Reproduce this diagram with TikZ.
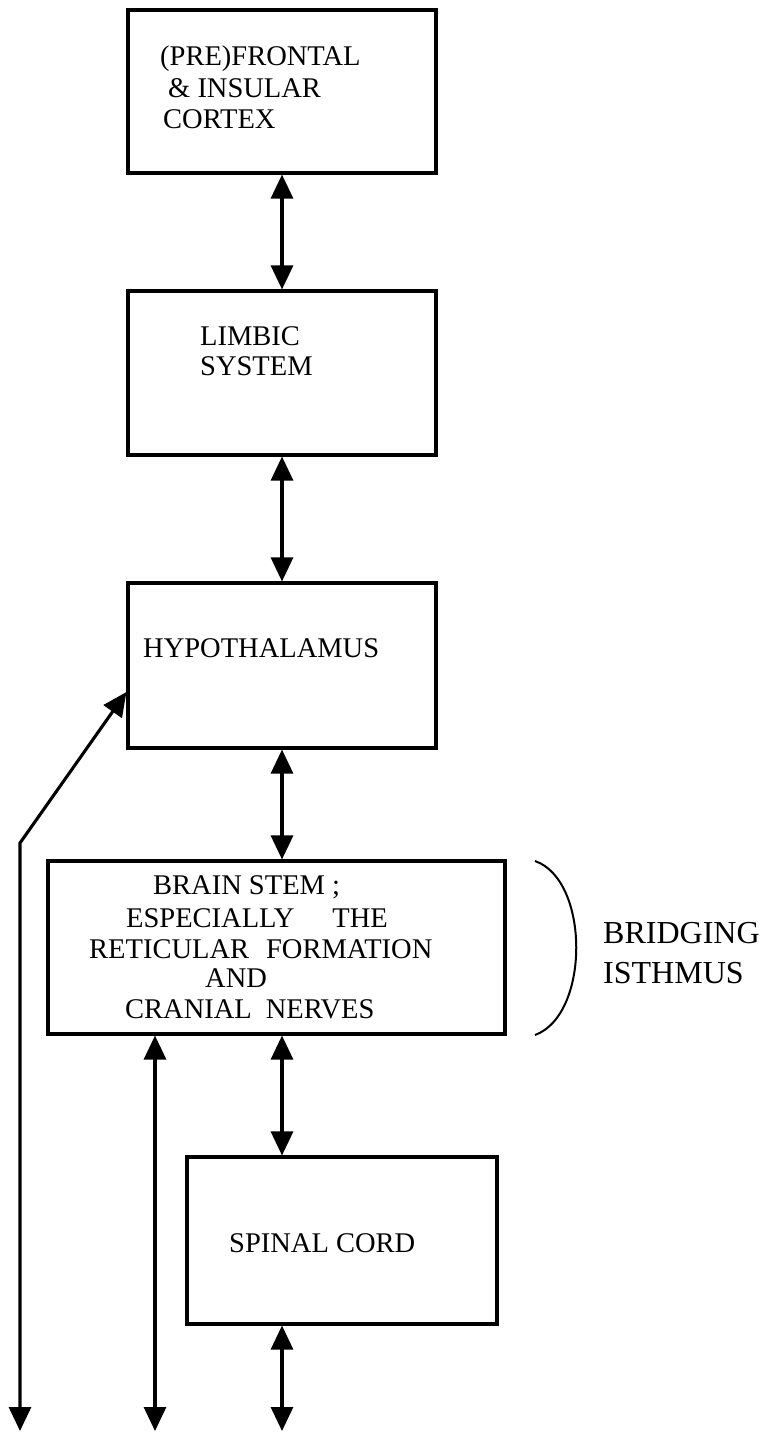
\documentclass[tikz,border=0pt]{standalone}
\usepackage{fontspec}
\setmainfont{Liberation Serif}
\usetikzlibrary{arrows.meta}
\begin{document}
\begin{tikzpicture}[x=1pt,y=-1pt,
  panel/.style={draw, line width=3.1pt, inner sep=0pt},
  txt/.style={inner sep=0pt, anchor=base west, font=\fontsize{28.5}{31}\selectfont},
  bigtxt/.style={inner sep=0pt, anchor=base west, font=\fontsize{32}{36}\selectfont},
  link/.style={line width=3.1pt, {Triangle[length=24pt,width=22pt]}-{Triangle[length=24pt,width=22pt]}},
  brace/.style={line width=2pt}]
\useasboundingbox (0,0) rectangle (768,1432);

% boxes
\node[panel, minimum width=308pt, minimum height=163pt] (frontal) at (282,91.5) {};
\node[panel, minimum width=308pt, minimum height=164pt] (limbic) at (282,373) {};
\node[panel, minimum width=308pt, minimum height=165pt] (hypo) at (282,665.5) {};
\node[panel, minimum width=457pt, minimum height=173pt] (stem) at (276.5,947.5) {};
\node[panel, minimum width=310pt, minimum height=167pt] (spinal) at (342,1240.5) {};

% box texts
\node[txt] (t1) at (160,65) {(PRE)FRONTAL};
\node[txt] (t2) at (168,97) {\& INSULAR};
\node[txt] (t3) at (163,128) {CORTEX};
\node[txt] (t4) at (200,345) {LIMBIC};
\node[txt] (t5) at (200,375) {SYSTEM};
\node[txt] (t6) at (143,657) {HYPOTHALAMUS};
\node[txt] (t7) at (153,894) {BRAIN STEM ;};
\node[txt] (t8) at (126,927) {ESPECIALLY\hspace{38pt}THE};
\node[txt] (t9) at (89,958) {RETICULAR\hspace{17pt}FORMATION};
\node[txt] (t10) at (205,987) {AND};
\node[txt] (t11) at (125,1018) {CRANIAL\hspace{14pt}NERVES};
\node[txt] (t12) at (229,1252) {SPINAL CORD};

% side label with its bracket
\node[bigtxt] (b1) at (603,943) {BRIDGING};
\node[bigtxt] (b2) at (603,983) {ISTHMUS};
\coordinate (btop) at (535,861);
\coordinate (bbot) at (535,1035);
\draw[brace] (btop) .. controls (590,880) and (590,1015) .. (bbot);

% free ends at the bottom edge
\coordinate (bot) at (0,1431);
\coordinate (leftx) at (20,1431);
\coordinate (midx) at (155,1431);
\coordinate (bend) at (20,843);

% connectors
\draw[link] (frontal.south) -- (limbic.north);
\draw[link] (limbic.south) -- (hypo.north);
\draw[link] (hypo.south) -- (hypo.south |- stem.north);
\draw[link] (hypo.south |- stem.south) -- (hypo.south |- spinal.north);
\draw[link] (hypo.south |- spinal.south) -- (hypo.south |- bot);
\draw[link] (midx |- stem.south) -- (midx);
\draw[link] (leftx) -- (bend) -- ([yshift=-26.5pt]hypo.west);
\end{tikzpicture}
\end{document}
